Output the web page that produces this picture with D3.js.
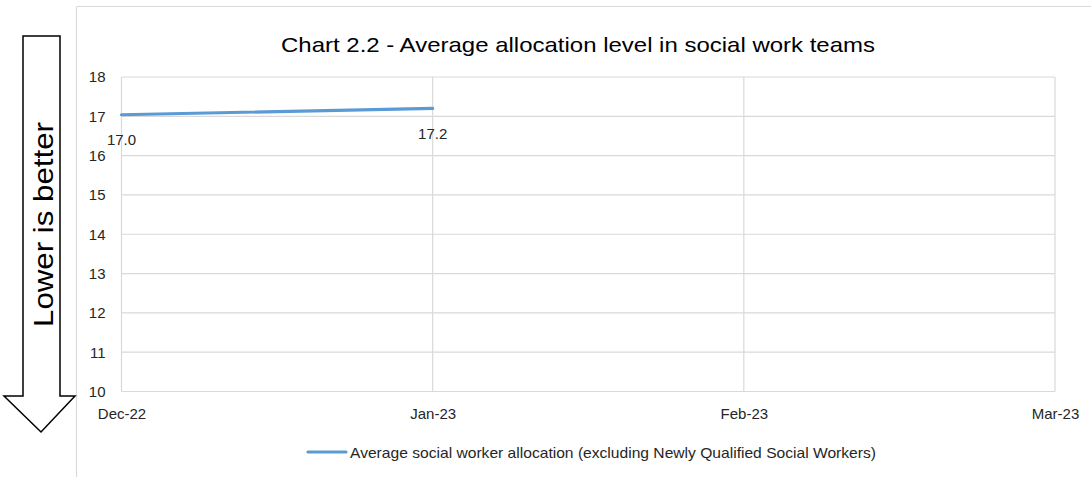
<!DOCTYPE html>
<html>
<head>
<meta charset="utf-8">
<script src="https://cdn.jsdelivr.net/npm/d3@7"></script>
<style>
  html, body { margin: 0; padding: 0; background: #fff; }
  svg { display: block; font-family: "Liberation Sans", Arial, sans-serif; }
</style>
</head>
<body>
<svg id="chart" width="1091" height="477"></svg>
<script>
const months = ["Dec-22", "Jan-23", "Feb-23", "Mar-23"];
const allocation = [17.04, 17.2, null, null];
const valueLabels = ["17.0", "17.2", null, null];
const yTicks = [10, 11, 12, 13, 14, 15, 16, 17, 18];
const titleText = "Chart 2.2 - Average allocation level in social work teams";
const seriesName = "Average social worker allocation (excluding Newly Qualified Social Workers)";
const arrowText = "Lower is better";

const svg = d3.select("#chart");
const W = 1091, H = 477;
const plot = { left: 121.5, right: 1055, top: 77, bottom: 391.5 };
const gridColor = "#d9d9d9";
const lineColor = "#5b9bd5";

// chart area border (left & top)
svg.append("line").attr("x1", 76.5).attr("x2", 76.5).attr("y1", 6.5).attr("y2", H)
  .attr("stroke", gridColor).attr("stroke-width", 1.2);
svg.append("line").attr("x1", 76.5).attr("x2", W).attr("y1", 6.5).attr("y2", 6.5)
  .attr("stroke", gridColor).attr("stroke-width", 1.2);

const x = d3.scalePoint().domain(months).range([plot.left, plot.right]);
const y = d3.scaleLinear().domain([10, 18]).range([plot.bottom, plot.top]);

// horizontal gridlines
svg.append("g").selectAll("line").data(yTicks).join("line")
  .attr("x1", plot.left).attr("x2", plot.right)
  .attr("y1", d => y(d)).attr("y2", d => y(d))
  .attr("stroke", gridColor).attr("stroke-width", 1.2);

// vertical gridlines
svg.append("g").selectAll("line").data(months).join("line")
  .attr("x1", d => x(d)).attr("x2", d => x(d))
  .attr("y1", plot.top).attr("y2", plot.bottom)
  .attr("stroke", gridColor).attr("stroke-width", 1.2);

// y axis labels
const yAxis = d3.axisLeft(y).tickValues(yTicks).tickSize(0).tickPadding(16).tickFormat(d3.format("d"));
const gy = svg.append("g").attr("transform", `translate(${plot.left},0)`).call(yAxis);
gy.select(".domain").remove();
gy.selectAll("text").attr("font-size", 15).attr("fill", "#262626")
  .attr("font-family", "'Liberation Sans', Arial, sans-serif");

// x axis labels
const xAxis = d3.axisBottom(x).tickSize(0).tickPadding(0);
const gx = svg.append("g").attr("transform", `translate(0,${plot.bottom})`).call(xAxis);
gx.select(".domain").remove();
gx.selectAll("text").attr("font-size", 15).attr("fill", "#262626")
  .attr("dy", null).attr("y", 21.5).attr("dominant-baseline", "central")
  .attr("font-family", "'Liberation Sans', Arial, sans-serif");

// data line
const pts = months.map((m, i) => ({ m, v: allocation[i], lab: valueLabels[i] })).filter(d => d.v != null);
const line = d3.line().x(d => x(d.m)).y(d => y(d.v));
svg.append("path").datum(pts).attr("d", line)
  .attr("fill", "none").attr("stroke", lineColor).attr("stroke-width", 3.2)
  .attr("stroke-linecap", "round");

// data labels
svg.append("g").selectAll("text").data(pts).join("text")
  .attr("x", d => x(d.m)).attr("y", d => y(d.v) + 25)
  .attr("text-anchor", "middle").attr("dominant-baseline", "central")
  .attr("font-size", 15).attr("fill", "#262626").text(d => d.lab);

// title
svg.append("text").attr("x", 578).attr("y", 52).attr("text-anchor", "middle")
  .attr("font-size", 21).attr("fill", "#000")
  .attr("textLength", 594).attr("lengthAdjust", "spacingAndGlyphs")
  .text(titleText);

// legend
svg.append("line").attr("x1", 308).attr("x2", 346).attr("y1", 452).attr("y2", 452)
  .attr("stroke", lineColor).attr("stroke-width", 3.2).attr("stroke-linecap", "round");
svg.append("text").attr("x", 350).attr("y", 452).attr("dominant-baseline", "central")
  .attr("font-size", 15).attr("fill", "#262626")
  .attr("textLength", 526).attr("lengthAdjust", "spacingAndGlyphs")
  .text(seriesName);

// arrow
const arrow = [[23, 36], [60, 36], [60, 396], [75, 396], [41, 432], [4, 396], [23, 396]];
svg.append("polygon").attr("points", arrow.map(p => p.join(",")).join(" "))
  .attr("fill", "#fff").attr("stroke", "#000").attr("stroke-width", 1.5);
svg.append("text").attr("transform", "translate(53,224.5) rotate(-90)")
  .attr("text-anchor", "middle").attr("font-size", 28).attr("fill", "#000")
  .attr("textLength", 205).attr("lengthAdjust", "spacingAndGlyphs")
  .text(arrowText);
</script>
</body>
</html>
